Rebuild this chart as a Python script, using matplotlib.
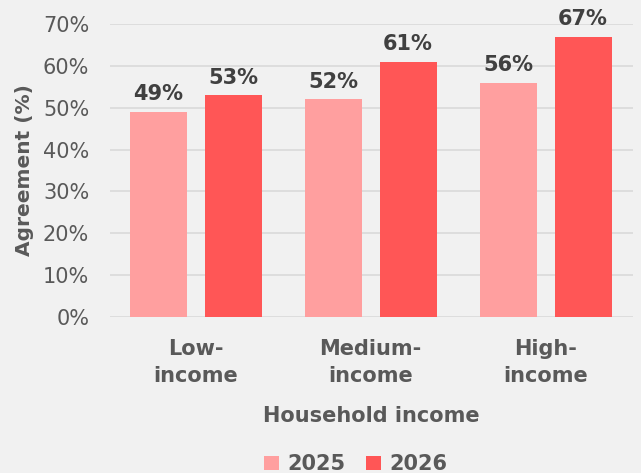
import numpy as np
import matplotlib.pyplot as plt

categories = ["Low-\nincome", "Medium-\nincome", "High-\nincome"]
years = ["2025", "2026"]
agree_2025 = [49, 52, 56]
agree_2026 = [53, 61, 67]
yticks = [0, 10, 20, 30, 40, 50, 60, 70]

c_2025 = "#ff9f9f"
c_2026 = "#ff5656"
bg = "#f1f1f1"
dark = "#404040"
grey = "#595959"

plt.rcParams["font.family"] = ["DejaVu Sans"]

fig = plt.figure(figsize=(6.41, 4.73), dpi=100, facecolor=bg)
ax = fig.add_axes([0.1716, 0.3298, 0.816, 0.6195], facecolor=bg)

x = np.arange(len(categories))
w = 0.326
off = 0.214

b1 = ax.bar(x - off, agree_2025, w, color=c_2025, label=years[0], zorder=3)
b2 = ax.bar(x + off, agree_2026, w, color=c_2026, label=years[1], zorder=3)

for bars, vals in [(b1, agree_2025), (b2, agree_2026)]:
    for rect, v in zip(bars, vals):
        ax.text(rect.get_x() + rect.get_width() / 2, v + 1.8, f"{v}%",
                ha="center", va="bottom", fontsize=15, fontweight="bold",
                color=dark, clip_on=False)

ax.set_ylim(0, 70)
ax.set_xlim(-0.49, 2.5)
ax.set_yticks(yticks)
ax.set_yticklabels([f"{t}%" for t in yticks], fontsize=15, color=grey)
ax.yaxis.grid(True, color="#d9d9d9", linewidth=1.2, zorder=0)
ax.tick_params(axis="both", length=0)
ax.tick_params(axis="y", pad=15)
ax.set_xticks(x)
ax.set_xticklabels(categories, fontsize=15, fontweight="bold", color=grey,
                   linespacing=1.4)
ax.tick_params(axis="x", pad=16)
for s in ax.spines.values():
    s.set_visible(False)

ax.set_ylabel("Agreement (%)", fontsize=14.5, fontweight="bold", color=grey,
              labelpad=6)
ax.set_xlabel("Household income", fontsize=15, fontweight="bold", color=grey,
              labelpad=15)

leg = fig.legend(handles=[b1, b2], labels=years, loc="center",
                 bbox_to_anchor=(0.555, 0.018), ncol=2, frameon=False,
                 handlelength=0.7, handleheight=0.7, handletextpad=0.4,
                 columnspacing=1.0,
                 prop={"size": 15, "weight": "bold"})
for t in leg.get_texts():
    t.set_color(grey)

fig.savefig("out.png", dpi=100, facecolor=bg)
